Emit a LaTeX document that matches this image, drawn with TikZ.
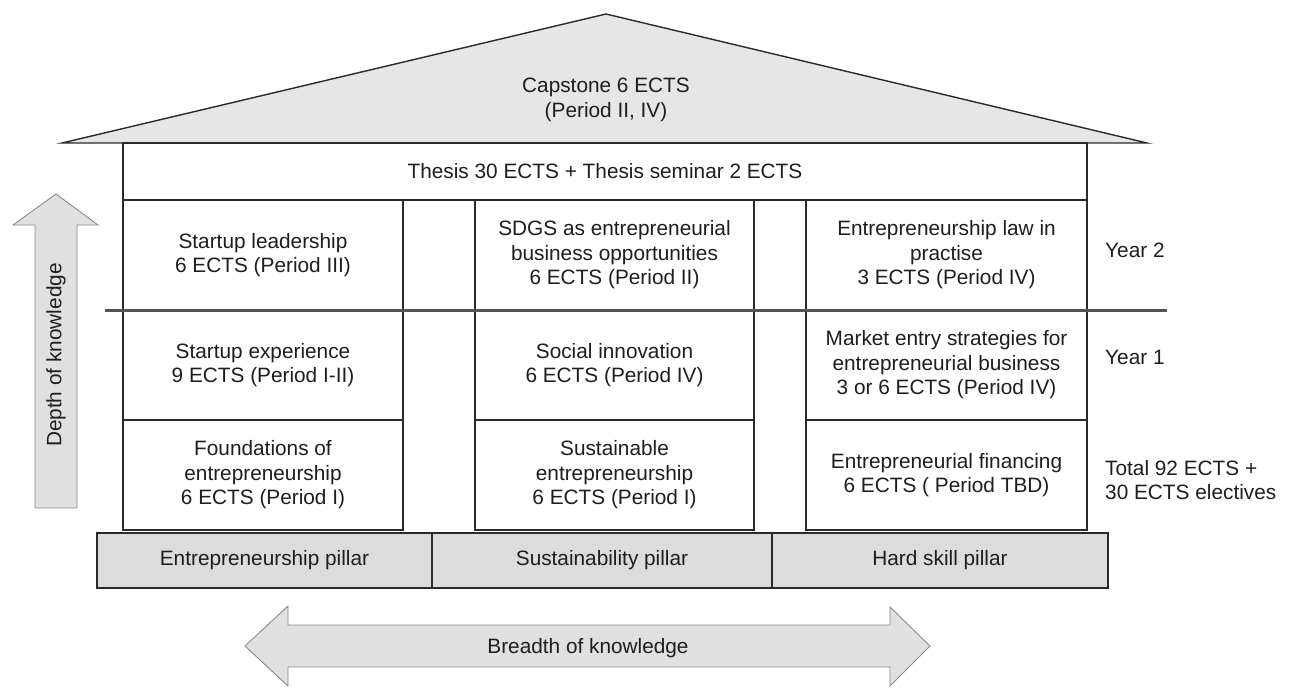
\documentclass[tikz,border=0pt]{standalone}
\usepackage{fontspec}
\setmainfont{Liberation Sans}
\definecolor{linec}{HTML}{2A2A2A}
\definecolor{txt}{HTML}{1E1E1E}
\definecolor{roofc}{HTML}{E6E6E6}
\definecolor{pillc}{HTML}{DCDCDC}
\definecolor{arrc}{HTML}{E0E0E0}
\definecolor{arrl}{HTML}{8A8A8A}
\definecolor{sepc}{HTML}{555555}
\newcommand{\fs}{\fontsize{20.8}{24.5}\selectfont}
\begin{document}
\begin{tikzpicture}[x=1pt,y=-1pt,
  cell/.style={draw=linec, line width=1.3pt, fill=white, align=center, inner sep=0pt, text=txt, font=\fs, minimum height=110pt},
  pill/.style={draw=linec, line width=1.3pt, fill=pillc, align=center, inner sep=0pt, text=txt, font=\fs, minimum height=55pt},
  lbl/.style={align=center, inner sep=0pt, text=txt, font=\fs},
  side/.style={align=left, inner sep=0pt, text=txt, font=\fs, anchor=west},
  bigarrow/.style={draw=arrl, line width=0.9pt, fill=arrc}
]
\useasboundingbox (0,0) rectangle (1290,688);
% roof
\draw[draw=linec, line width=1.4pt, fill=roofc, line join=miter] (62,143) -- (606,14) -- (1147,143) -- cycle;
\node[lbl] (cap) at (606,100) {Capstone 6 ECTS\\(Period II, IV)};
% thesis
\node[cell, minimum width=964pt, minimum height=57pt] (thesis) at (605,171.5) {Thesis 30 ECTS + Thesis seminar 2 ECTS};
% column cells
\node[cell, minimum width=280pt] (l1) at (263,255) {Startup leadership\\6 ECTS (Period III)};
\node[cell, minimum width=280pt] (l2) at (263,365) {Startup experience\\9 ECTS (Period I-II)};
\node[cell, minimum width=280pt] (l3) at (263,475) {Foundations of\\entrepreneurship\\6 ECTS (Period I)};
\node[cell, minimum width=279pt] (m1) at (614.5,255) {SDGS as entrepreneurial\\business opportunities\\6 ECTS (Period II)};
\node[cell, minimum width=279pt] (m2) at (614.5,365) {Social innovation\\6 ECTS (Period IV)};
\node[cell, minimum width=279pt] (m3) at (614.5,475) {Sustainable\\entrepreneurship\\6 ECTS (Period I)};
\node[cell, minimum width=281pt] (r1) at (946.5,255) {Entrepreneurship law in\\practise\\3 ECTS (Period IV)};
\node[cell, minimum width=281pt] (r2) at (946.5,365) {Market entry strategies for\\entrepreneurial business\\3 or 6 ECTS (Period IV)};
\node[cell, minimum width=281pt] (r3) at (946.5,475) {Entrepreneurial financing\\6 ECTS ( Period TBD)};
% thesis bottom line spanning gaps
\draw[draw=linec, line width=1.6pt] (thesis.south west) -- (thesis.south east);
% year separator
\coordinate (sepL) at (105,310);
\coordinate (sepR) at (1167,310);
\draw[draw=sepc, line width=3pt] (sepL) -- (sepR);
% pillars
\node[pill, minimum width=335pt] (p1) at (264.5,560.5) {Entrepreneurship pillar};
\node[pill, minimum width=340pt] (p2) at (602,560.5) {Sustainability pillar};
\node[pill, minimum width=336pt] (p3) at (940,560.5) {Hard skill pillar};
% side labels
\node[side] (y2) at (1105,250) {Year 2};
\node[side] (y1) at (1105,357) {Year 1};
\node[side] (tot) at (1105,480) {Total 92 ECTS +\\30 ECTS electives};
% depth arrow
\draw[bigarrow] (35,508) -- (35,225) -- (13,225) -- (56,194) -- (98,225) -- (77,225) -- (77,508) -- cycle;
\node[lbl, rotate=90] (depth) at (56,355) {Depth of knowledge};
% breadth arrow
\draw[bigarrow] (245,646) -- (288,606) -- (288,625) -- (890,625) -- (890,607) -- (930,646) -- (890,686) -- (890,667) -- (288,667) -- (288,686) -- cycle;
\node[lbl] (breadth) at (588,648) {Breadth of knowledge};
\end{tikzpicture}
\end{document}
